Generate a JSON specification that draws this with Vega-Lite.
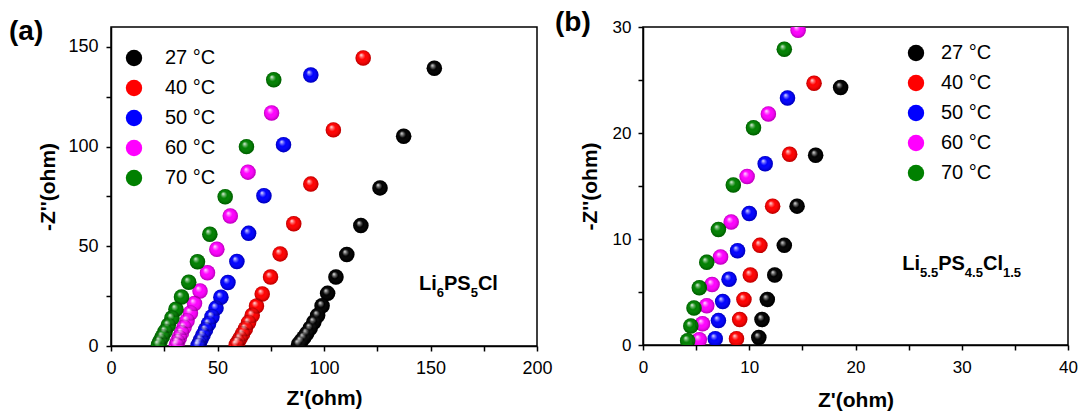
{
  "$schema": "https://vega.github.io/schema/vega-lite/v6.json",
  "padding": {"left": 8, "top": 8, "right": 5, "bottom": 5},
  "background": "white",
  "config": {
    "font": "Liberation Sans",
    "view": {"stroke": "black", "strokeWidth": 1.5},
    "axis": {"grid": false, "domainColor": "black", "domainWidth": 1.5, "tickColor": "black", "tickWidth": 1.5, "tickSize": 5, "labelColor": "black", "labelFont": "Liberation Sans", "titleFont": "Liberation Sans", "titleColor": "black", "titleFontWeight": "bold", "titleFontSize": 21, "labelFlush": false, "labelOverlap": false},
    "legend": {"labelFont": "Liberation Sans", "labelColor": "black", "labelFontSize": 20, "symbolStrokeWidth": 0, "symbolType": "circle", "padding": 0, "rowPadding": 10},
    "title": {"font": "Liberation Sans", "color": "black"}
  },
  "bounds": "flush",
  "spacing": 106,
  "resolve": {"scale": {"color": "independent"}, "legend": {"color": "independent"}},
  "hconcat": [
    {
      "width": 426,
      "height": 319,
      "title": {"text": "(a)", "anchor": "start", "frame": "group", "fontSize": 28, "fontWeight": "bold", "dx": -102, "dy": 19, "offset": 0},
      "data": {"values": [
        {"T": "27 °C", "zr": 151.8, "zi": 139.3}, {"T": "27 °C", "zr": 137.4, "zi": 105.2}, {"T": "27 °C", "zr": 126.3, "zi": 79.3}, {"T": "27 °C", "zr": 117.3, "zi": 60.4}, {"T": "27 °C", "zr": 110.7, "zi": 45.9}, {"T": "27 °C", "zr": 105.6, "zi": 34.6}, {"T": "27 °C", "zr": 101.7, "zi": 26.4}, {"T": "27 °C", "zr": 99.1, "zi": 20.2}, {"T": "27 °C", "zr": 97.0, "zi": 15.3}, {"T": "27 °C", "zr": 95.2, "zi": 11.9}, {"T": "27 °C", "zr": 93.5, "zi": 8.9}, {"T": "27 °C", "zr": 91.9, "zi": 6.3}, {"T": "27 °C", "zr": 90.5, "zi": 4.2}, {"T": "27 °C", "zr": 89.2, "zi": 2.4}, {"T": "27 °C", "zr": 88.1, "zi": 0.9},
        {"T": "40 °C", "zr": 118.4, "zi": 144.5}, {"T": "40 °C", "zr": 104.4, "zi": 108.4}, {"T": "40 °C", "zr": 93.8, "zi": 81.2}, {"T": "40 °C", "zr": 85.8, "zi": 61.3}, {"T": "40 °C", "zr": 79.4, "zi": 46.2}, {"T": "40 °C", "zr": 74.9, "zi": 34.6}, {"T": "40 °C", "zr": 71.0, "zi": 26.1}, {"T": "40 °C", "zr": 68.3, "zi": 20.1}, {"T": "40 °C", "zr": 66.3, "zi": 15.4}, {"T": "40 °C", "zr": 64.6, "zi": 11.8}, {"T": "40 °C", "zr": 63.1, "zi": 8.7}, {"T": "40 °C", "zr": 61.8, "zi": 6.1}, {"T": "40 °C", "zr": 60.6, "zi": 3.9}, {"T": "40 °C", "zr": 59.6, "zi": 2.0}, {"T": "40 °C", "zr": 58.8, "zi": 0.6},
        {"T": "50 °C", "zr": 93.8, "zi": 135.9}, {"T": "50 °C", "zr": 81.0, "zi": 101.0}, {"T": "50 °C", "zr": 71.8, "zi": 75.4}, {"T": "50 °C", "zr": 64.6, "zi": 56.5}, {"T": "50 °C", "zr": 59.1, "zi": 42.4}, {"T": "50 °C", "zr": 54.9, "zi": 31.8}, {"T": "50 °C", "zr": 51.6, "zi": 24.5}, {"T": "50 °C", "zr": 49.3, "zi": 19.0}, {"T": "50 °C", "zr": 47.4, "zi": 14.7}, {"T": "50 °C", "zr": 45.8, "zi": 11.2}, {"T": "50 °C", "zr": 44.4, "zi": 8.1}, {"T": "50 °C", "zr": 43.2, "zi": 5.5}, {"T": "50 °C", "zr": 42.2, "zi": 3.3}, {"T": "50 °C", "zr": 41.4, "zi": 1.4}, {"T": "50 °C", "zr": 40.9, "zi": 0.2},
        {"T": "60 °C", "zr": 75.4, "zi": 116.9}, {"T": "60 °C", "zr": 64.3, "zi": 87.2}, {"T": "60 °C", "zr": 56.0, "zi": 65.2}, {"T": "60 °C", "zr": 49.7, "zi": 48.5}, {"T": "60 °C", "zr": 45.3, "zi": 36.7}, {"T": "60 °C", "zr": 41.8, "zi": 27.6}, {"T": "60 °C", "zr": 39.2, "zi": 21.3}, {"T": "60 °C", "zr": 37.3, "zi": 16.6}, {"T": "60 °C", "zr": 35.7, "zi": 12.7}, {"T": "60 °C", "zr": 34.3, "zi": 9.4}, {"T": "60 °C", "zr": 33.1, "zi": 6.6}, {"T": "60 °C", "zr": 32.1, "zi": 4.2}, {"T": "60 °C", "zr": 31.3, "zi": 2.1}, {"T": "60 °C", "zr": 30.7, "zi": 0.5},
        {"T": "70 °C", "zr": 76.4, "zi": 133.5}, {"T": "70 °C", "zr": 63.6, "zi": 100.0}, {"T": "70 °C", "zr": 53.6, "zi": 74.9}, {"T": "70 °C", "zr": 46.4, "zi": 56.1}, {"T": "70 °C", "zr": 40.6, "zi": 42.3}, {"T": "70 °C", "zr": 36.5, "zi": 32.0}, {"T": "70 °C", "zr": 33.1, "zi": 24.6}, {"T": "70 °C", "zr": 30.5, "zi": 18.4}, {"T": "70 °C", "zr": 28.6, "zi": 14.0}, {"T": "70 °C", "zr": 26.9, "zi": 10.4}, {"T": "70 °C", "zr": 25.4, "zi": 7.3}, {"T": "70 °C", "zr": 24.1, "zi": 4.7}, {"T": "70 °C", "zr": 23.0, "zi": 2.4}, {"T": "70 °C", "zr": 22.3, "zi": 0.6}
      ]},
      "layer": [
        {
          "mark": {"type": "circle", "size": 240, "opacity": 1, "clip": true},
          "encoding": {
            "x": {"field": "zr", "type": "quantitative", "scale": {"domain": [0, 200]}, "axis": {"title": "Z'(ohm)", "values": [0, 25, 50, 75, 100, 125, 150, 175, 200], "labelExpr": "datum.value % 50 === 0 ? datum.label : ''", "labelFontSize": 18, "labelPadding": 8, "titlePadding": 10}},
            "y": {"field": "zi", "type": "quantitative", "scale": {"domain": [0, 150]}, "axis": {"title": "-Z''(ohm)", "values": [0, 25, 50, 75, 100, 125, 150], "labelExpr": "datum.value % 50 === 0 ? datum.label : ''", "labelFontSize": 18, "labelPadding": 8, "titlePadding": 9}},
            "color": {"field": "T", "type": "nominal", "scale": {"domain": ["27 °C", "40 °C", "50 °C", "60 °C", "70 °C"], "range": ["#000000", "#ff0000", "#0000ff", "#ff00ff", "#008000"]}, "legend": {"orient": "none", "legendX": 13, "legendY": 21, "title": null, "symbolSize": 270, "labelOffset": 21}}
          }
        },
        {
          "mark": {"type": "circle", "size": 240, "opacity": 1, "clip": true, "fill": {"gradient": "radial", "x1": 0.36, "y1": 0.3, "r1": 0, "x2": 0.5, "y2": 0.5, "r2": 0.5, "stops": [{"offset": 0, "color": "rgba(255,255,255,0.95)"}, {"offset": 0.2, "color": "rgba(255,255,255,0.45)"}, {"offset": 0.45, "color": "rgba(255,255,255,0)"}, {"offset": 0.85, "color": "rgba(0,0,0,0.12)"}, {"offset": 1, "color": "rgba(0,0,0,0.3)"}]}},
          "encoding": {
            "x": {"field": "zr", "type": "quantitative"},
            "y": {"field": "zi", "type": "quantitative"}
          }
        },
        {"data": {"values": [{"label": "Li"}]}, "mark": {"type": "text", "align": "left", "baseline": "alphabetic", "fontSize": 20, "fontWeight": "bold", "dx": 0}, "encoding": {"text": {"field": "label"}, "x": {"datum": 144.6}, "y": {"datum": 28.2}}},
        {"data": {"values": [{"label": "6"}]}, "mark": {"type": "text", "align": "left", "baseline": "alphabetic", "fontSize": 13, "fontWeight": "bold", "dx": 17.8, "dy": 7}, "encoding": {"text": {"field": "label"}, "x": {"datum": 144.6}, "y": {"datum": 28.2}}},
        {"data": {"values": [{"label": "PS"}]}, "mark": {"type": "text", "align": "left", "baseline": "alphabetic", "fontSize": 20, "fontWeight": "bold", "dx": 25.0}, "encoding": {"text": {"field": "label"}, "x": {"datum": 144.6}, "y": {"datum": 28.2}}},
        {"data": {"values": [{"label": "5"}]}, "mark": {"type": "text", "align": "left", "baseline": "alphabetic", "fontSize": 13, "fontWeight": "bold", "dx": 51.7, "dy": 7}, "encoding": {"text": {"field": "label"}, "x": {"datum": 144.6}, "y": {"datum": 28.2}}},
        {"data": {"values": [{"label": "Cl"}]}, "mark": {"type": "text", "align": "left", "baseline": "alphabetic", "fontSize": 20, "fontWeight": "bold", "dx": 58.9}, "encoding": {"text": {"field": "label"}, "x": {"datum": 144.6}, "y": {"datum": 28.2}}}
      ]
    },
    {
      "width": 425,
      "height": 318,
      "title": {"text": "(b)", "anchor": "start", "frame": "group", "fontSize": 28, "fontWeight": "bold", "dx": -88, "dy": 19, "offset": 0},
      "data": {"values": [
        {"T": "27 °C", "zr": 18.6, "zi": 24.3}, {"T": "27 °C", "zr": 16.25, "zi": 17.9}, {"T": "27 °C", "zr": 14.5, "zi": 13.1}, {"T": "27 °C", "zr": 13.3, "zi": 9.4}, {"T": "27 °C", "zr": 12.4, "zi": 6.6}, {"T": "27 °C", "zr": 11.7, "zi": 4.3}, {"T": "27 °C", "zr": 11.2, "zi": 2.4}, {"T": "27 °C", "zr": 10.9, "zi": 0.7},
        {"T": "40 °C", "zr": 16.1, "zi": 24.7}, {"T": "40 °C", "zr": 13.8, "zi": 18.0}, {"T": "40 °C", "zr": 12.2, "zi": 13.1}, {"T": "40 °C", "zr": 11.0, "zi": 9.4}, {"T": "40 °C", "zr": 10.1, "zi": 6.6}, {"T": "40 °C", "zr": 9.5, "zi": 4.3}, {"T": "40 °C", "zr": 9.1, "zi": 2.4}, {"T": "40 °C", "zr": 8.8, "zi": 0.6},
        {"T": "50 °C", "zr": 13.6, "zi": 23.3}, {"T": "50 °C", "zr": 11.5, "zi": 17.1}, {"T": "50 °C", "zr": 10.0, "zi": 12.4}, {"T": "50 °C", "zr": 8.9, "zi": 8.9}, {"T": "50 °C", "zr": 8.1, "zi": 6.2}, {"T": "50 °C", "zr": 7.5, "zi": 4.1}, {"T": "50 °C", "zr": 7.1, "zi": 2.3}, {"T": "50 °C", "zr": 6.8, "zi": 0.6},
        {"T": "60 °C", "zr": 14.6, "zi": 29.7}, {"T": "60 °C", "zr": 11.8, "zi": 21.8}, {"T": "60 °C", "zr": 9.8, "zi": 15.9}, {"T": "60 °C", "zr": 8.3, "zi": 11.6}, {"T": "60 °C", "zr": 7.3, "zi": 8.3}, {"T": "60 °C", "zr": 6.5, "zi": 5.7}, {"T": "60 °C", "zr": 6.0, "zi": 3.7}, {"T": "60 °C", "zr": 5.6, "zi": 2.0}, {"T": "60 °C", "zr": 5.3, "zi": 0.5},
        {"T": "70 °C", "zr": 13.3, "zi": 27.9}, {"T": "70 °C", "zr": 10.4, "zi": 20.5}, {"T": "70 °C", "zr": 8.5, "zi": 15.1}, {"T": "70 °C", "zr": 7.1, "zi": 10.9}, {"T": "70 °C", "zr": 6.0, "zi": 7.8}, {"T": "70 °C", "zr": 5.3, "zi": 5.4}, {"T": "70 °C", "zr": 4.8, "zi": 3.5}, {"T": "70 °C", "zr": 4.5, "zi": 1.8}, {"T": "70 °C", "zr": 4.2, "zi": 0.4}
      ]},
      "layer": [
        {
          "mark": {"type": "circle", "size": 240, "opacity": 1, "clip": true},
          "encoding": {
            "x": {"field": "zr", "type": "quantitative", "scale": {"domain": [0, 40]}, "axis": {"title": "Z'(ohm)", "values": [0, 5, 10, 15, 20, 25, 30, 35, 40], "labelExpr": "datum.value % 10 === 0 ? datum.label : ''", "labelFontSize": 17, "labelPadding": 9, "titlePadding": 14}},
            "y": {"field": "zi", "type": "quantitative", "scale": {"domain": [0, 30]}, "axis": {"title": "-Z''(ohm)", "values": [0, 5, 10, 15, 20, 25, 30], "labelExpr": "datum.value % 10 === 0 ? datum.label : ''", "labelFontSize": 17, "labelPadding": 7, "titlePadding": 12}},
            "color": {"field": "T", "type": "nominal", "scale": {"domain": ["27 °C", "40 °C", "50 °C", "60 °C", "70 °C"], "range": ["#000000", "#ff0000", "#0000ff", "#ff00ff", "#008000"]}, "legend": {"orient": "none", "legendX": 263, "legendY": 16, "title": null, "symbolSize": 270, "labelOffset": 15}}
          }
        },
        {
          "mark": {"type": "circle", "size": 240, "opacity": 1, "clip": true, "fill": {"gradient": "radial", "x1": 0.36, "y1": 0.3, "r1": 0, "x2": 0.5, "y2": 0.5, "r2": 0.5, "stops": [{"offset": 0, "color": "rgba(255,255,255,0.95)"}, {"offset": 0.2, "color": "rgba(255,255,255,0.45)"}, {"offset": 0.45, "color": "rgba(255,255,255,0)"}, {"offset": 0.85, "color": "rgba(0,0,0,0.12)"}, {"offset": 1, "color": "rgba(0,0,0,0.3)"}]}},
          "encoding": {
            "x": {"field": "zr", "type": "quantitative"},
            "y": {"field": "zi", "type": "quantitative"}
          }
        },
        {"data": {"values": [{"label": "Li"}]}, "mark": {"type": "text", "align": "left", "baseline": "alphabetic", "fontSize": 20, "fontWeight": "bold", "dx": 0}, "encoding": {"text": {"field": "label"}, "x": {"datum": 24.4}, "y": {"datum": 7.1}}},
        {"data": {"values": [{"label": "5.5"}]}, "mark": {"type": "text", "align": "left", "baseline": "alphabetic", "fontSize": 13, "fontWeight": "bold", "dx": 17.8, "dy": 7}, "encoding": {"text": {"field": "label"}, "x": {"datum": 24.4}, "y": {"datum": 7.1}}},
        {"data": {"values": [{"label": "PS"}]}, "mark": {"type": "text", "align": "left", "baseline": "alphabetic", "fontSize": 20, "fontWeight": "bold", "dx": 35.9}, "encoding": {"text": {"field": "label"}, "x": {"datum": 24.4}, "y": {"datum": 7.1}}},
        {"data": {"values": [{"label": "4.5"}]}, "mark": {"type": "text", "align": "left", "baseline": "alphabetic", "fontSize": 13, "fontWeight": "bold", "dx": 62.6, "dy": 7}, "encoding": {"text": {"field": "label"}, "x": {"datum": 24.4}, "y": {"datum": 7.1}}},
        {"data": {"values": [{"label": "Cl"}]}, "mark": {"type": "text", "align": "left", "baseline": "alphabetic", "fontSize": 20, "fontWeight": "bold", "dx": 80.7}, "encoding": {"text": {"field": "label"}, "x": {"datum": 24.4}, "y": {"datum": 7.1}}},
        {"data": {"values": [{"label": "1.5"}]}, "mark": {"type": "text", "align": "left", "baseline": "alphabetic", "fontSize": 13, "fontWeight": "bold", "dx": 100.7, "dy": 7}, "encoding": {"text": {"field": "label"}, "x": {"datum": 24.4}, "y": {"datum": 7.1}}}
      ]
    }
  ]
}
